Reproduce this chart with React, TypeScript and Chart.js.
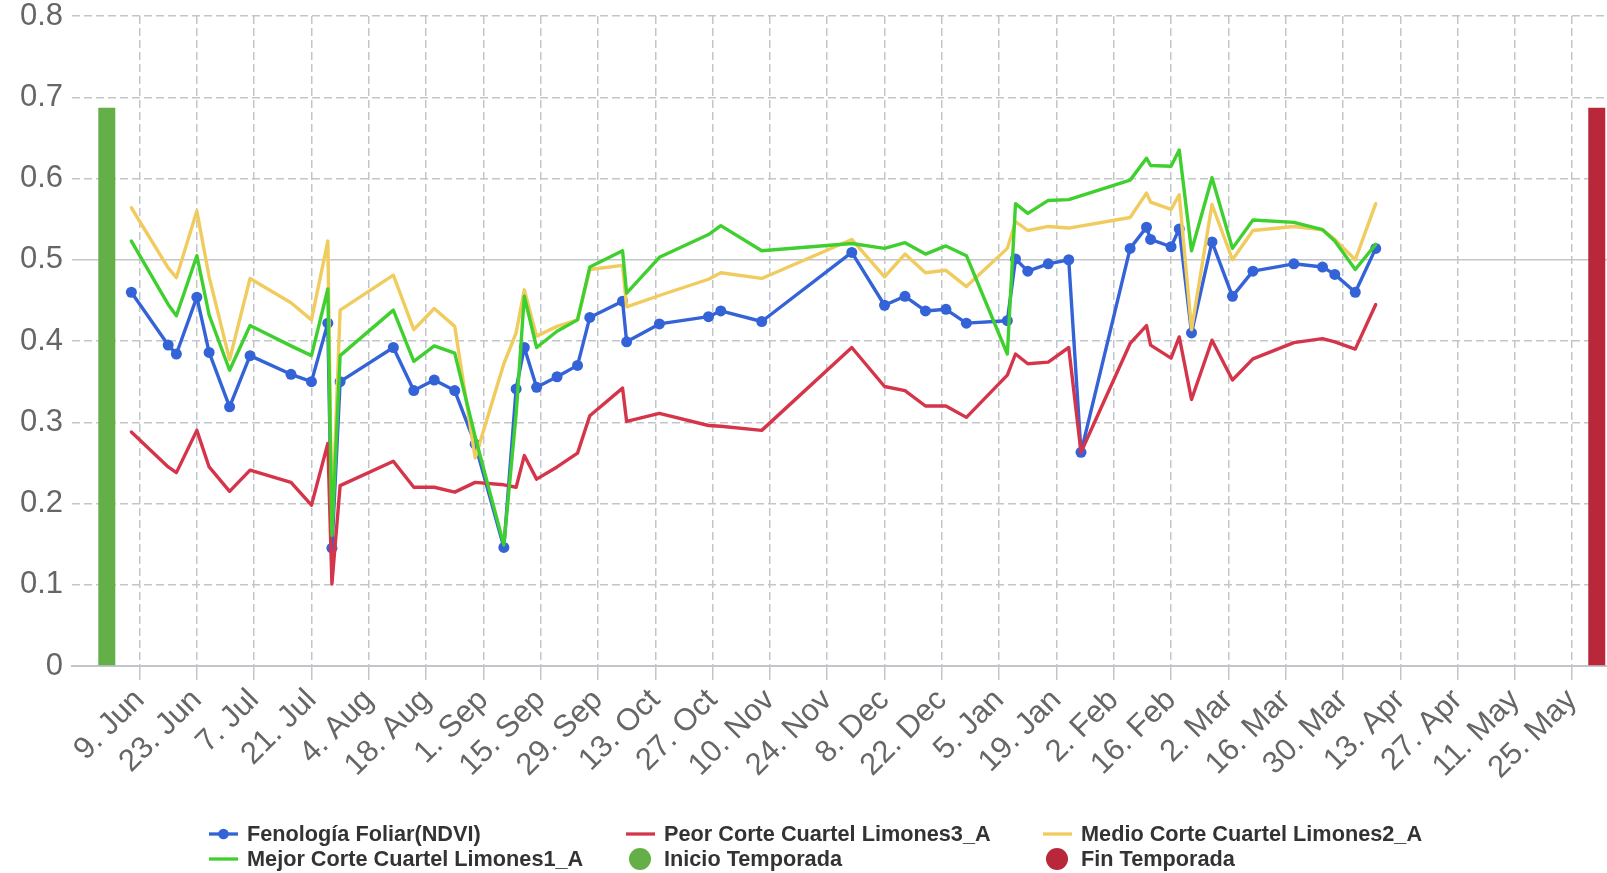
import { useEffect, useRef } from "react";
import { Chart, registerables } from "chart.js";

Chart.register(...registerables);

// Days counted from 9 Jun (day 0)
const sampleDays = [
  -2, 7, 9, 14, 17, 22, 27, 37, 42, 46, 47, 49, 62, 67, 72, 77, 82, 89, 92, 94,
  97, 102, 107, 110, 118, 119, 127, 139, 142, 152, 174, 182, 187, 192, 197, 202, 212, 214, 217, 222,
  227, 230, 242, 246, 247, 252, 254, 257, 262, 267, 272, 282, 289, 292, 297, 302,
];

const ndviValues = [
  0.46, 0.395, 0.384, 0.454, 0.386, 0.319, 0.382, 0.359, 0.35, 0.422, 0.145, 0.35, 0.392, 0.339, 0.352, 0.339, 0.273, 0.146, 0.341, 0.392,
  0.343, 0.356, 0.37, 0.429, 0.449, 0.399, 0.421, 0.43, 0.437, 0.424, 0.509, 0.444, 0.455, 0.437, 0.439, 0.422, 0.425, 0.501, 0.486, 0.495,
  0.5, 0.263, 0.514, 0.54, 0.525, 0.516, 0.538, 0.41, 0.522, 0.455, 0.486, 0.495, 0.491, 0.482, 0.46, 0.514,
];

const peorValues = [
  0.288, 0.245, 0.238, 0.29, 0.245, 0.215, 0.241, 0.226, 0.198, 0.274, 0.101, 0.222, 0.252, 0.22, 0.22, 0.214, 0.226, 0.223, 0.22, 0.259,
  0.23, 0.245, 0.262, 0.308, 0.342, 0.301, 0.311, 0.296, 0.295, 0.29, 0.392, 0.344, 0.339, 0.32, 0.32, 0.306, 0.358, 0.384, 0.372, 0.374,
  0.392, 0.263, 0.397, 0.419, 0.395, 0.379, 0.405, 0.328, 0.401, 0.352, 0.378, 0.398, 0.403, 0.399, 0.39, 0.445,
];

const medioValues = [
  0.564, 0.49, 0.478, 0.56, 0.479, 0.377, 0.477, 0.447, 0.426, 0.523, 0.17, 0.438, 0.481, 0.414, 0.44, 0.418, 0.256, 0.372, 0.41, 0.463,
  0.406, 0.418, 0.426, 0.488, 0.493, 0.442, 0.456, 0.476, 0.484, 0.477, 0.525, 0.479, 0.507, 0.484, 0.487, 0.467, 0.514, 0.547, 0.536, 0.541,
  0.539, null, 0.552, 0.582, 0.571, 0.562, 0.58, 0.414, 0.568, 0.5, 0.536, 0.541, 0.537, 0.525, 0.5, 0.569,
];

const mejorValues = [
  0.523, 0.445, 0.431, 0.505, 0.432, 0.364, 0.419, 0.394, 0.382, 0.464, 0.161, 0.382, 0.438, 0.375, 0.394, 0.385, 0.282, 0.149, 0.31, 0.455,
  0.392, 0.412, 0.426, 0.491, 0.511, 0.459, 0.503, 0.531, 0.542, 0.511, 0.52, 0.514, 0.521, 0.507, 0.517, 0.505, 0.384, 0.569, 0.557, 0.573,
  0.574, null, 0.598, 0.625, 0.616, 0.615, 0.635, 0.511, 0.601, 0.514, 0.549, 0.546, 0.537, 0.523, 0.488, 0.519,
];

const seasonStartDays = [-8];
const seasonStartValues = [0.687];
const seasonEndDays = [356];
const seasonEndValues = [0.687];

const xTickDays = [0, 14, 28, 42, 56, 70, 84, 98, 112, 126, 140, 154, 168, 182, 196, 210, 224, 238, 252, 266, 280, 294, 308, 322, 336, 350];
const xTickLabels = [
  "9. Jun", "23. Jun", "7. Jul", "21. Jul", "4. Aug", "18. Aug", "1. Sep", "15. Sep", "29. Sep", "13. Oct",
  "27. Oct", "10. Nov", "24. Nov", "8. Dec", "22. Dec", "5. Jan", "19. Jan", "2. Feb", "16. Feb", "2. Mar",
  "16. Mar", "30. Mar", "13. Apr", "27. Apr", "11. May", "25. May",
];
const yTickValues = [0, 0.1, 0.2, 0.3, 0.4, 0.5, 0.6, 0.7, 0.8];
const yTickLabels = ["0", "0.1", "0.2", "0.3", "0.4", "0.5", "0.6", "0.7", "0.8"];

const FONT = '"Liberation Sans", Arial, Helvetica, sans-serif';
const GRID = "#c2c5c9";

function toPoints(days: number[], values: (number | null)[]) {
  return days.map((d, i) => ({ x: d, y: values[i] }));
}

const legendPlugin = {
  id: "columnLegend",
  afterDraw(chart: any) {
    const ctx = chart.ctx;
    const cols = [209, 626, 1043];
    const rows = [834, 859];
    ctx.save();
    ctx.font = `bold 21.7px ${FONT}`;
    ctx.textBaseline = "middle";
    chart.data.datasets.forEach((d: any, i: number) => {
      const x = cols[i % 3];
      const y = rows[Math.floor(i / 3)];
      if (d.type === "bar") {
        ctx.fillStyle = d.backgroundColor;
        ctx.beginPath();
        ctx.arc(x + 14, y, 11, 0, Math.PI * 2);
        ctx.fill();
      } else {
        ctx.strokeStyle = d.borderColor;
        ctx.lineWidth = 3.3;
        ctx.beginPath();
        ctx.moveTo(x, y);
        ctx.lineTo(x + 29, y);
        ctx.stroke();
        if (d.pointRadius > 0) {
          ctx.fillStyle = d.borderColor;
          ctx.beginPath();
          ctx.arc(x + 14.5, y, 5.3, 0, Math.PI * 2);
          ctx.fill();
        }
      }
      ctx.fillStyle = "#333333";
      ctx.fillText(d.label, x + 38, y + 1);
    });
    ctx.restore();
  },
};

export default function App() {
  const canvasRef = useRef<HTMLCanvasElement | null>(null);

  useEffect(() => {
    if (!canvasRef.current) return;
    const lineCommon = {
      type: "line" as const,
      borderWidth: 3.4,
      tension: 0,
      spanGaps: true,
      borderJoinStyle: "round" as const,
      borderCapStyle: "round" as const,
      pointRadius: 0,
      pointHoverRadius: 0,
    };
    const chart = new Chart(canvasRef.current, {
      type: "line",
      data: {
        datasets: [
          {
            ...lineCommon,
            label: "Fenología Foliar(NDVI)",
            data: toPoints(sampleDays, ndviValues),
            borderColor: "#3463d8",
            backgroundColor: "#3463d8",
            pointRadius: 5.5,
            pointBackgroundColor: "#3463d8",
            pointBorderWidth: 0,
            order: 4,
          },
          {
            ...lineCommon,
            label: "Peor Corte Cuartel Limones3_A",
            data: toPoints(sampleDays, peorValues),
            borderColor: "#d5354a",
            backgroundColor: "#d5354a",
            order: 3,
          },
          {
            ...lineCommon,
            label: "Medio Corte Cuartel Limones2_A",
            data: toPoints(sampleDays, medioValues),
            borderColor: "#f0cb5e",
            backgroundColor: "#f0cb5e",
            order: 2,
          },
          {
            ...lineCommon,
            label: "Mejor Corte Cuartel Limones1_A",
            data: toPoints(sampleDays, mejorValues),
            borderColor: "#3fd02f",
            backgroundColor: "#3fd02f",
            order: 1,
          },
          {
            type: "bar",
            label: "Inicio Temporada",
            data: toPoints(seasonStartDays, seasonStartValues),
            backgroundColor: "#64af48",
            borderWidth: 0,
            grouped: false,
            maxBarThickness: 17,
            order: 5,
          } as any,
          {
            type: "bar",
            label: "Fin Temporada",
            data: toPoints(seasonEndDays, seasonEndValues),
            backgroundColor: "#b9283a",
            borderWidth: 0,
            grouped: false,
            maxBarThickness: 17,
            order: 6,
          } as any,
        ],
      },
      options: {
        responsive: false,
        animation: false,
        devicePixelRatio: 1,
        events: [],
        layout: { autoPadding: false, padding: { top: 16, left: 0, right: 0, bottom: 0 } },
        plugins: {
          legend: { display: false },
          tooltip: { enabled: false },
        },
        scales: {
          x: {
            type: "linear",
            min: -16.5,
            max: 358.5,
            offset: false,
            grid: {
              color: GRID,
              lineWidth: 1.5,
              drawTicks: true,
              tickLength: 14,
              tickColor: GRID,
              tickWidth: 1.5,
              tickBorderDash: [],
              offset: false,
            },
            border: {
              display: true,
              color: GRID,
              width: 2,
              dash: (c: any) => (c.type === "tick" ? [8, 4] : []),
            },
            ticks: {
              autoSkip: false,
              minRotation: 45,
              maxRotation: 45,
              padding: 2,
              color: "#666666",
              font: { family: FONT, size: 31 },
              callback: (_v: any, i: number) => xTickLabels[i],
            },
            afterBuildTicks: (s: any) => {
              s.ticks = xTickDays.map((v) => ({ value: v }));
            },
            afterFit: (s: any) => {
              s.height = 207;
              s.paddingLeft = 0;
              s.paddingRight = 0;
            },
          },
          y: {
            type: "linear",
            min: 0,
            max: 0.8,
            grid: {
              color: GRID,
              lineWidth: 1.5,
              drawTicks: false,
            },
            border: {
              display: false,
              dash: (c: any) =>
                c.type === "tick" && c.tick && Math.abs(c.tick.value - 0.5) > 1e-6 ? [8, 4] : [],
            },
            ticks: {
              padding: 9,
              color: "#666666",
              font: { family: FONT, size: 31 },
              callback: (_v: any, i: number) => yTickLabels[i],
            },
            afterBuildTicks: (s: any) => {
              s.ticks = yTickValues.map((v) => ({ value: v }));
            },
            afterFit: (s: any) => {
              s.width = 72;
              s.paddingTop = 0;
              s.paddingBottom = 0;
            },
          },
        },
      },
      plugins: [legendPlugin],
    });
    return () => chart.destroy();
  }, []);

  return (
    <div style={{ position: "absolute", left: 0, top: 0, width: 1607, height: 873, background: "#fff" }}>
      <canvas ref={canvasRef} width={1607} height={873} style={{ display: "block" }} />
    </div>
  );
}
